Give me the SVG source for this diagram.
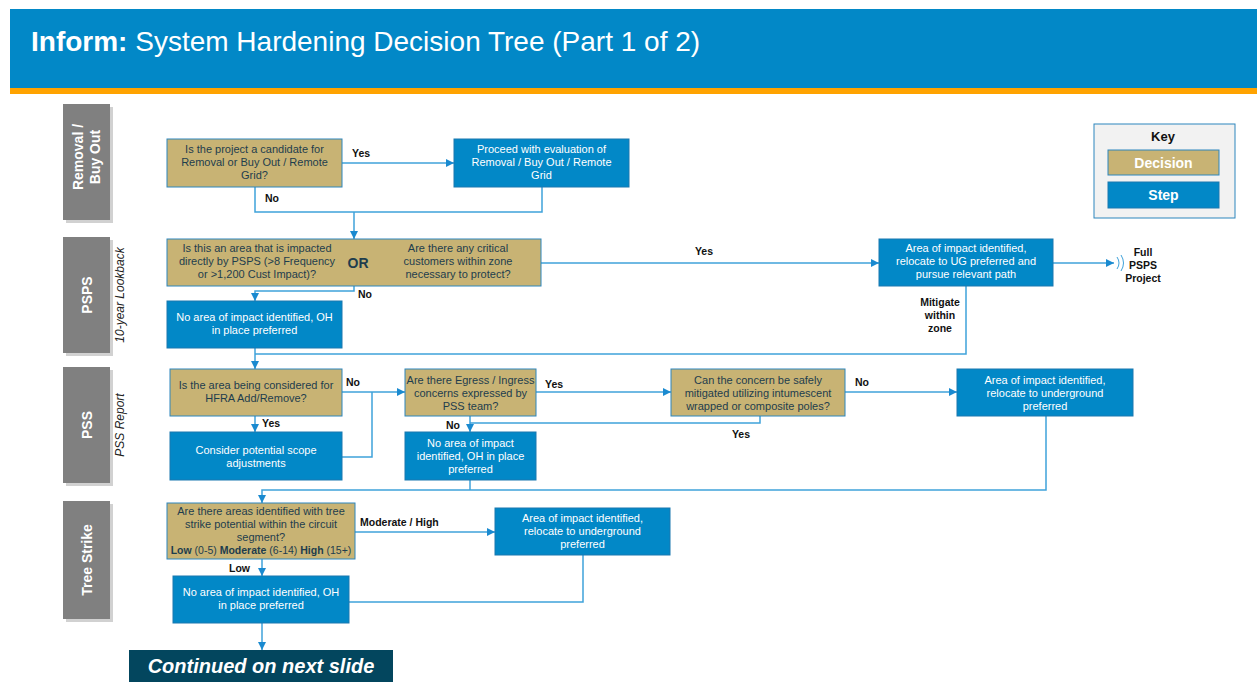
<svg xmlns="http://www.w3.org/2000/svg" width="1257" height="682" viewBox="0 0 1257 682">
<style>
text{font-family:"Liberation Sans",Arial,sans-serif}
.dec{fill:#C8B374;stroke:#2D86BD;stroke-width:1}
.stp{fill:#0288C7;stroke:#1A78B0;stroke-width:1}
.dt{font-size:11px;fill:#1E3D4D;text-anchor:middle}
.st{font-size:11px;fill:#FFFFFF;text-anchor:middle}
.lbl{font-size:10.5px;font-weight:bold;fill:#111}
.lane{fill:#808080}
.laneSh{fill:#000;opacity:0.18}
.lt{font-size:14px;font-weight:bold;fill:#FFFFFF;text-anchor:middle}
.it{font-size:12px;font-style:italic;fill:#222;text-anchor:middle}
.con{fill:none;stroke:#3FA2DA;stroke-width:1.5}
</style>
<defs>
<marker id="ah" markerUnits="userSpaceOnUse" markerWidth="9" markerHeight="9" refX="8" refY="4" orient="auto">
<path d="M0,0 L8,4 L0,8 z" fill="#1A8AD0"/>
</marker>
</defs>
<rect width="1257" height="682" fill="#FFFFFF"/>
<g id="header">
<rect x="10" y="9" width="1247" height="80" fill="#0288C7"/>
<rect x="10" y="88" width="1247" height="6" fill="#FFA300"/>
<text x="31" y="51" font-size="28" fill="#FFFFFF"><tspan font-weight="bold">Inform:</tspan> System Hardening Decision Tree (Part 1 of 2)</text>
</g>
<g id="lanes">
<rect class="laneSh" x="66" y="107" width="47" height="116"/>
<rect class="lane" x="63" y="104" width="47" height="116"/>
<text class="lt" transform="translate(87,157) rotate(-90)"><tspan x="0" y="-4">Removal /</tspan><tspan x="0" y="13">Buy Out</tspan></text>
<rect class="laneSh" x="66" y="240" width="47" height="116"/>
<rect class="lane" x="63" y="237" width="47" height="116"/>
<text class="lt" transform="translate(87,295) rotate(-90)" y="5">PSPS</text>
<text class="it" transform="translate(124,295) rotate(-90)">10-year Lookback</text>
<rect class="laneSh" x="66" y="370" width="47" height="116"/>
<rect class="lane" x="63" y="367" width="47" height="116"/>
<text class="lt" transform="translate(87,425) rotate(-90)" y="5">PSS</text>
<text class="it" transform="translate(124,425) rotate(-90)">PSS Report</text>
<rect class="laneSh" x="66" y="504" width="47" height="118"/>
<rect class="lane" x="63" y="501" width="47" height="118"/>
<text class="lt" transform="translate(87,560) rotate(-90)" y="5">Tree Strike</text>
</g>
<g id="connectors">
<path class="con" d="M342,163 H454" marker-end="url(#ah)"/>
<path class="con" d="M255,187 V212 H542 V187"/>
<path class="con" d="M354,212 V239" marker-end="url(#ah)"/>
<path class="con" d="M354,286 V291 H255 V301" marker-end="url(#ah)"/>
<path class="con" d="M541,263 H879" marker-end="url(#ah)"/>
<path class="con" d="M1053,263 H1114" marker-end="url(#ah)"/>
<path d="M1117,257 Q1121,263 1117,269 M1121,255 Q1126,263 1121,271" fill="none" stroke="#3FA2DA" stroke-width="1"/>
<path class="con" d="M966,286 V354 H255"/>
<path class="con" d="M255,348 V369" marker-end="url(#ah)"/>
<path class="con" d="M255,416 V432" marker-end="url(#ah)"/>
<path class="con" d="M342,392 H405" marker-end="url(#ah)"/>
<path class="con" d="M342,457 H372 V392"/>
<path class="con" d="M536,392 H671" marker-end="url(#ah)"/>
<path class="con" d="M845,392 H957" marker-end="url(#ah)"/>
<path class="con" d="M760,416 V423 H470"/>
<path class="con" d="M470,416 V432" marker-end="url(#ah)"/>
<path class="con" d="M470,480 V490"/>
<path class="con" d="M1046,416 V490 H262 V503" marker-end="url(#ah)"/>
<path class="con" d="M355,532 H495" marker-end="url(#ah)"/>
<path class="con" d="M262,559 V576" marker-end="url(#ah)"/>
<path class="con" d="M349,602 H583 V555"/>
<path class="con" d="M262,623 V650" marker-end="url(#ah)"/>
</g>
<g id="labels">
<text class="lbl" x="352" y="157">Yes</text>
<text class="lbl" x="265" y="202">No</text>
<text class="lbl" x="358" y="298">No</text>
<text class="lbl" x="704" y="255" text-anchor="middle">Yes</text>
<text class="lbl" x="940" y="306" text-anchor="middle">Mitigate</text>
<text class="lbl" x="940" y="319" text-anchor="middle">within</text>
<text class="lbl" x="940" y="332" text-anchor="middle">zone</text>
<text class="lbl" x="346" y="386">No</text>
<text class="lbl" x="262" y="427">Yes</text>
<text class="lbl" x="446" y="429">No</text>
<text class="lbl" x="545" y="388">Yes</text>
<text class="lbl" x="855" y="386">No</text>
<text class="lbl" x="741" y="438" text-anchor="middle">Yes</text>
<text class="lbl" x="360" y="526">Moderate / High</text>
<text class="lbl" x="229" y="572">Low</text>
</g>
<g id="n-removal-q">
<rect class="dec" x="167" y="139" width="175" height="48"/>
<text class="dt"><tspan x="254.5" y="153">Is the project a candidate for</tspan><tspan x="254.5" y="166">Removal or Buy Out / Remote</tspan><tspan x="254.5" y="179">Grid?</tspan></text>
</g>
<g id="n-removal-step">
<rect class="stp" x="454" y="139" width="175" height="48"/>
<text class="st"><tspan x="541.5" y="153">Proceed with evaluation of</tspan><tspan x="541.5" y="166">Removal / Buy Out / Remote</tspan><tspan x="541.5" y="179">Grid</tspan></text>
</g>
<g id="n-psps-q">
<rect class="dec" x="167" y="239" width="374" height="47"/>
<text class="dt"><tspan x="257" y="252">Is this an area that is impacted</tspan><tspan x="257" y="265">directly by PSPS (&gt;8 Frequency</tspan><tspan x="257" y="278">or &gt;1,200 Cust Impact)?</tspan></text>
<text x="358" y="268" font-size="14" font-weight="bold" fill="#1E3D4D" text-anchor="middle">OR</text>
<text class="dt"><tspan x="458" y="252">Are there any critical</tspan><tspan x="458" y="265">customers within zone</tspan><tspan x="458" y="278">necessary to protect?</tspan></text>
</g>
<g id="n-psps-no">
<rect class="stp" x="167" y="301" width="175" height="47"/>
<text class="st"><tspan x="254.5" y="321">No area of impact identified, OH</tspan><tspan x="254.5" y="334">in place preferred</tspan></text>
</g>
<g id="n-psps-ug">
<rect class="stp" x="879" y="239" width="174" height="47"/>
<text class="st"><tspan x="966" y="252">Area of impact identified,</tspan><tspan x="966" y="265">relocate to UG preferred and</tspan><tspan x="966" y="278">pursue relevant path</tspan></text>
</g>
<g id="n-full-psps">
<text class="lbl" text-anchor="middle"><tspan x="1143" y="256">Full</tspan><tspan x="1143" y="269">PSPS</tspan><tspan x="1143" y="282">Project</tspan></text>
</g>
<g id="n-hfra-q">
<rect class="dec" x="170" y="369" width="172" height="47"/>
<text class="dt"><tspan x="256" y="389">Is the area being considered for</tspan><tspan x="256" y="402">HFRA Add/Remove?</tspan></text>
</g>
<g id="n-scope">
<rect class="stp" x="170" y="432" width="172" height="48"/>
<text class="st"><tspan x="256" y="454">Consider potential scope</tspan><tspan x="256" y="467">adjustments</tspan></text>
</g>
<g id="n-egress-q">
<rect class="dec" x="405" y="369" width="131" height="47"/>
<text class="dt"><tspan x="470.5" y="384">Are there Egress / Ingress</tspan><tspan x="470.5" y="397">concerns expressed by</tspan><tspan x="470.5" y="410">PSS team?</tspan></text>
</g>
<g id="n-pss-no">
<rect class="stp" x="405" y="432" width="131" height="48"/>
<text class="st"><tspan x="470.5" y="447">No area of impact</tspan><tspan x="470.5" y="460">identified, OH in place</tspan><tspan x="470.5" y="473">preferred</tspan></text>
</g>
<g id="n-intumescent-q">
<rect class="dec" x="671" y="369" width="174" height="47"/>
<text class="dt"><tspan x="758" y="384">Can the concern be safely</tspan><tspan x="758" y="397">mitigated utilizing intumescent</tspan><tspan x="758" y="410">wrapped or composite poles?</tspan></text>
</g>
<g id="n-pss-ug">
<rect class="stp" x="957" y="369" width="176" height="47"/>
<text class="st"><tspan x="1045" y="384">Area of impact identified,</tspan><tspan x="1045" y="397">relocate to underground</tspan><tspan x="1045" y="410">preferred</tspan></text>
</g>
<g id="n-tree-q">
<rect class="dec" x="167" y="503" width="188" height="56"/>
<text class="dt"><tspan x="261" y="515">Are there areas identified with tree</tspan><tspan x="261" y="528">strike potential within the circuit</tspan><tspan x="261" y="541">segment?</tspan><tspan x="261" y="554" font-size="10.5"><tspan font-weight="bold">Low</tspan> (0-5) <tspan font-weight="bold">Moderate</tspan> (6-14) <tspan font-weight="bold">High</tspan> (15+)</tspan></text>
</g>
<g id="n-tree-ug">
<rect class="stp" x="495" y="508" width="175" height="47"/>
<text class="st"><tspan x="582.5" y="522">Area of impact identified,</tspan><tspan x="582.5" y="535">relocate to underground</tspan><tspan x="582.5" y="548">preferred</tspan></text>
</g>
<g id="n-tree-no">
<rect class="stp" x="173" y="576" width="176" height="47"/>
<text class="st"><tspan x="261" y="596">No area of impact identified, OH</tspan><tspan x="261" y="609">in place preferred</tspan></text>
</g>
<g id="n-continued">
<rect x="129" y="650" width="264" height="32" fill="#03465E"/>
<text x="261" y="673" font-size="20" font-weight="bold" font-style="italic" fill="#FFFFFF" text-anchor="middle">Continued on next slide</text>
</g>
<g id="key">
<rect x="1094" y="124" width="141" height="94" fill="#F2F2F2" stroke="#2D86BD" stroke-width="1"/>
<text x="1163" y="141" font-size="13" font-weight="bold" fill="#111" text-anchor="middle">Key</text>
<rect class="dec" x="1108" y="150" width="111" height="25"/>
<text x="1163.5" y="168" font-size="14" font-weight="bold" fill="#FFFFFF" text-anchor="middle">Decision</text>
<rect class="stp" x="1108" y="182" width="111" height="26"/>
<text x="1163.5" y="200" font-size="14" font-weight="bold" fill="#FFFFFF" text-anchor="middle">Step</text>
</g>
</svg>
